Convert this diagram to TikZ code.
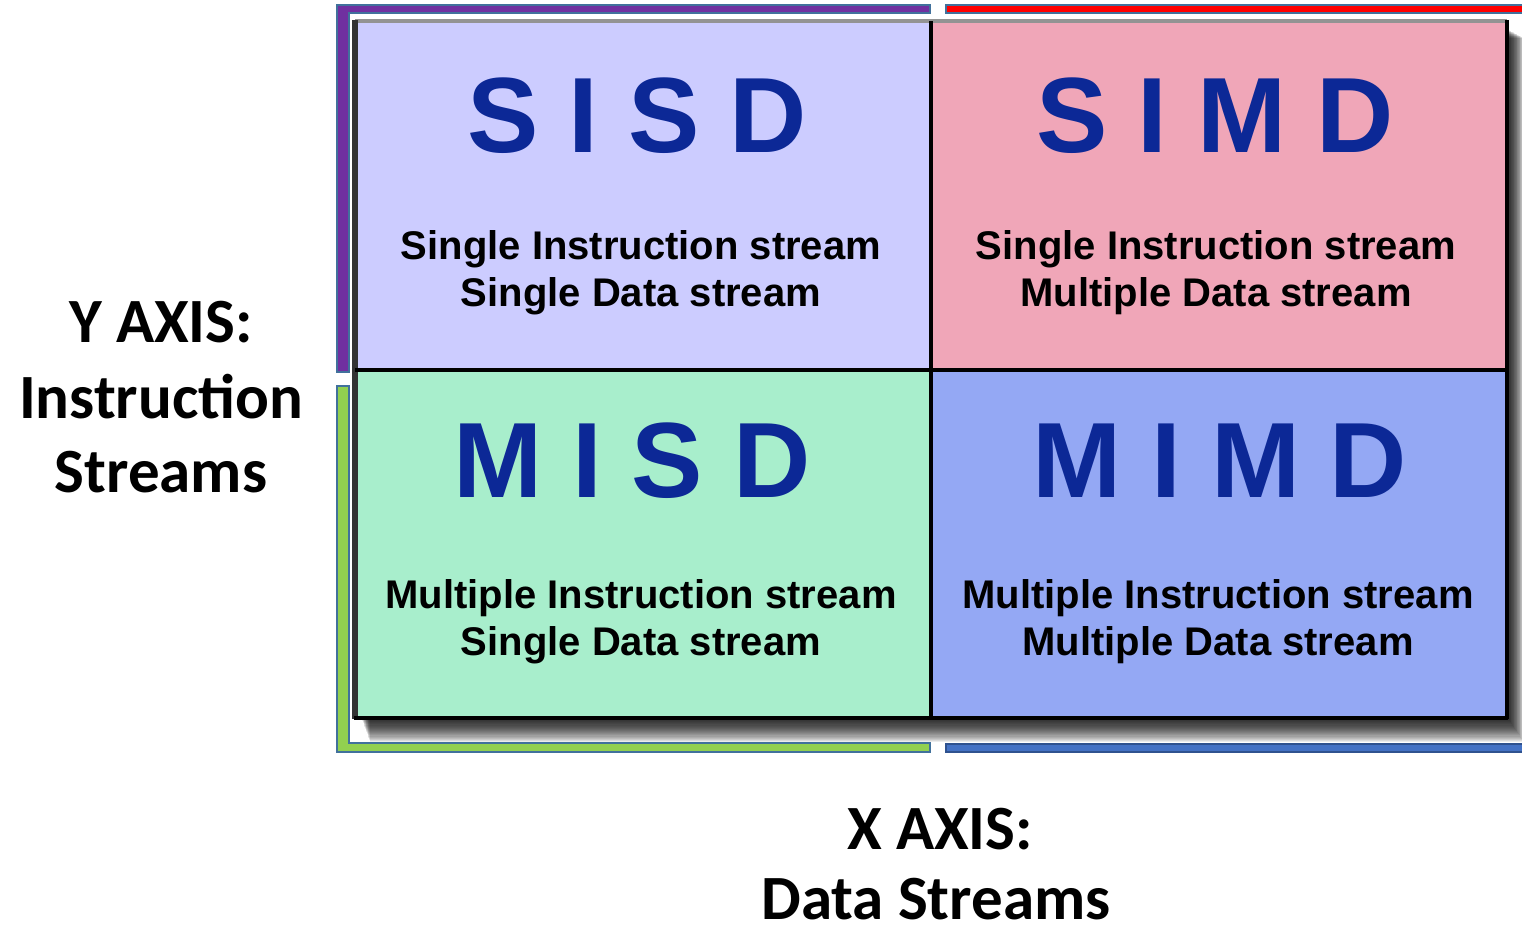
\documentclass[tikz,border=0pt]{standalone}
\usepackage{fontspec}
\setmainfont{Liberation Sans}
\newfontfamily\carlito{Carlito}
\definecolor{sisdc}{RGB}{204,204,255}
\definecolor{simdc}{RGB}{240,166,184}
\definecolor{misdc}{RGB}{168,238,204}
\definecolor{mimdc}{RGB}{148,168,244}
\definecolor{bigblue}{RGB}{12,40,150}
\definecolor{purp}{RGB}{112,48,160}
\definecolor{outl}{RGB}{65,113,156}
\definecolor{grn}{RGB}{146,208,80}
\definecolor{blu}{RGB}{68,114,196}
\definecolor{bluout}{RGB}{47,82,143}
\tikzset{
  bigtxt/.style={inner sep=0pt, anchor=base, text=bigblue, font=\fontsize{53.5pt}{60pt}\selectfont\bfseries},
  smalltxt/.style={inner sep=0pt, anchor=base, text=black, font=\fontsize{20pt}{24pt}\selectfont\bfseries},
  axtxt/.style={inner sep=0pt, anchor=base, text=black, font=\carlito\fontsize{31.5pt}{37pt}\selectfont\bfseries},
  bracket/.style={draw=outl, line width=1pt, line join=miter},
  gridline/.style={draw=black, line width=2.4pt},
}
\begin{document}
\begin{tikzpicture}[x=0.5pt, y=-0.5pt]
\useasboundingbox (0,0) rectangle (1522,934);
% brackets
\path[bracket, fill=purp] (337,5) -- (930,5) -- (930,13) -- (349,13) -- (349,372) -- (337,372) -- cycle;
\path[bracket, fill=red] (946,5) rectangle (1535,13);
\path[bracket, fill=grn] (337,386) -- (349,386) -- (349,743) -- (930,743) -- (930,752) -- (337,752) -- cycle;
\path[bracket, draw=bluout, fill=blu] (946,744) rectangle (1535,752);
% shadow
\foreach \i in {0,...,20} {
  \fill[black, opacity=0.075] (362+\i*0.4, 30+\i*0.4) rectangle (1509+\i*0.75, 720+\i*1.1);
}
% cells
\fill[sisdc] (355,21) rectangle (931,370);
\fill[simdc] (931,21) rectangle (1508,370);
\fill[misdc] (355,370) rectangle (931,718);
\fill[mimdc] (931,370) rectangle (1508,718);
% frame
\draw[line width=2pt, draw=gray!85] (355,21) -- (1507,21);
\draw[line width=3pt, draw=black!80] (355,20) -- (355,719);
\draw[gridline] (1507,20) -- (1507,719);
\draw[gridline] (354,718) -- (1508,718);
\draw[gridline] (931,21) -- (931,718);
\draw[gridline] (355,370) -- (1507,370);
% cell texts
\node[bigtxt] (sisd) at (637,152) {S I S D};
\node[smalltxt] (sisd1) at (641,259) {Single Instruction stream};
\node[smalltxt] (sisd2) at (641,306) {Single Data stream};
\node[bigtxt] (simd) at (1215,152) {S I M D};
\node[smalltxt] (simd1) at (1216,259) {Single Instruction stream};
\node[smalltxt] (simd2) at (1216,306) {Multiple Data stream};
\node[bigtxt] (misd) at (632,497) {M I S D};
\node[smalltxt] (misd1) at (641,608) {Multiple Instruction stream};
\node[smalltxt] (misd2) at (641,655) {Single Data stream};
\node[bigtxt] (mimd) at (1220,497) {M I M D};
\node[smalltxt] (mimd1) at (1218,608) {Multiple Instruction stream};
\node[smalltxt] (mimd2) at (1218,655) {Multiple Data stream};
% axis labels
\node[axtxt] (ya) at (161,342) {Y AXIS:};
\node[axtxt] (yb) at (161,418) {Instruction};
\node[axtxt] (yc) at (161,492) {Streams};
\node[axtxt] (xa) at (940,849) {X AXIS:};
\node[axtxt] (xb) at (936,919) {Data Streams};
\end{tikzpicture}
\end{document}
